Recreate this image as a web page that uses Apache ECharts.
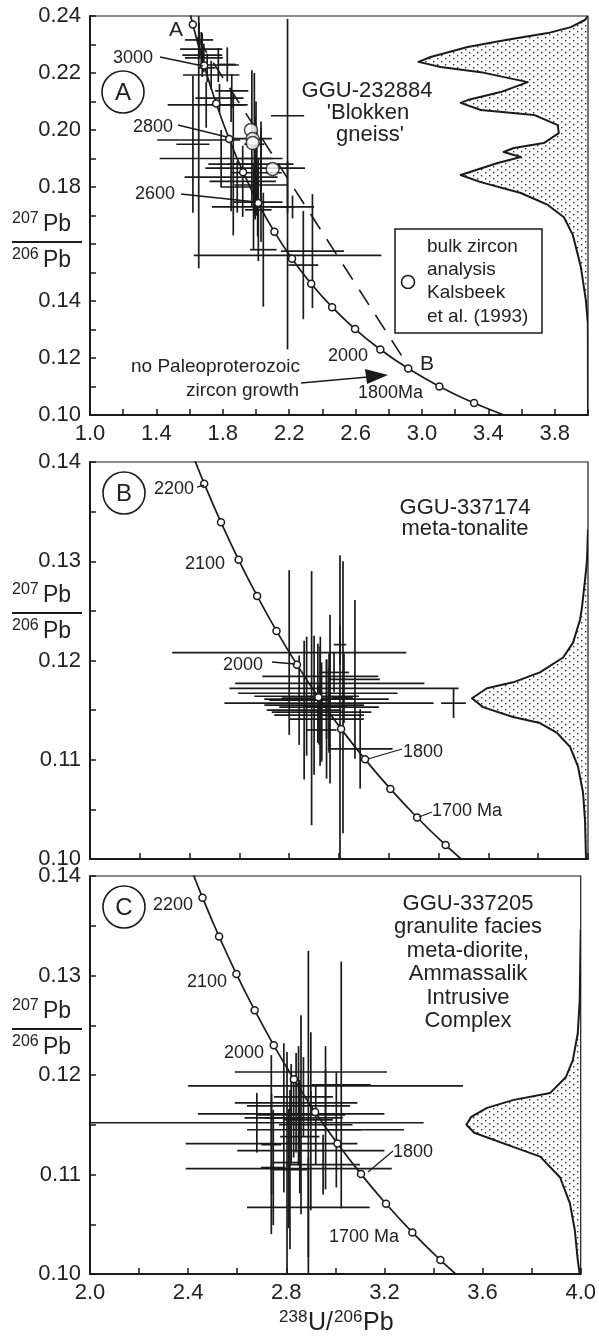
<!DOCTYPE html>
<html><head><meta charset="utf-8">
<script src="https://cdn.jsdelivr.net/npm/echarts@6/dist/echarts.min.js"></script>
<style>html,body{margin:0;padding:0;background:#fff}#c{width:599px;height:1340px}</style>
</head><body><div id="c"></div>
<script>
const FONT = '"Liberation Sans", Arial, Helvetica, sans-serif';
const INK = '#1a1a1a';

// ---------- tick labels ----------
const xLabelsA = ['1.0','1.4','1.8','2.2','2.6','3.0','3.4','3.8'];
const yLabelsA = ['0.10','0.12','0.14','0.18','0.20','0.22','0.24'];
const xLabelsC = ['2.0','2.4','2.8','3.2','3.6','4.0'];
const yLabelsBC = ['0.10','0.11','0.12','0.13','0.14'];

// ---------- concordia (age Ma, 238U/206Pb, 207Pb/206Pb) ----------
const concAgesA = [1600,1700,1800,1900,2000,2100,2200,2300,2400,2500,2600,2700,2800,2900,3000,3100,3200];
const concXA = [3.5496,3.3138,3.1046,2.9173,2.7490,2.5968,2.4586,2.3325,2.2170,2.1108,2.0129,1.9223,1.8384,1.7603,1.6875,1.6194,1.5557];
const concYA = [0.09872,0.10418,0.11004,0.11629,0.12298,0.13015,0.13782,0.14604,0.15484,0.16427,0.17437,0.18520,0.19683,0.20927,0.22266,0.23701,0.25241];
const concAgesBC = [1600,1650,1700,1750,1800,1850,1900,1950,2000,2050,2100,2150,2200,2250];
const concXBC = [3.5496,3.4282,3.3138,3.2063,3.1046,3.0084,2.9173,2.8310,2.7490,2.6711,2.5968,2.5261,2.4586,2.3941];
const concYBC = [0.09872,0.10140,0.10418,0.10706,0.11004,0.11311,0.11629,0.11958,0.12298,0.12651,0.13015,0.13392,0.13782,0.14186];

// ---------- analyses: [x, y, xErr, yErr] ----------
const crossesA = [
 [1.657,0.2316,0.085,0.006],[1.670,0.2284,0.127,0.006],[1.676,0.2263,0.120,0.0077],[1.686,0.2253,0.114,0.005],
 [1.773,0.2228,0.124,0.006],[1.730,0.2193,0.170,0.005],[1.854,0.2137,0.100,0.006],[1.780,0.2112,0.145,0.005],
 [1.700,0.2088,0.232,0.008],[1.850,0.2088,0.100,0.006],[1.827,0.2230,0.050,0.006],[1.706,0.2218,0.050,0.005],
 [1.655,0.1965,0.250,0.045],[1.620,0.1950,0.100,0.024],[1.790,0.1900,0.370,0.010],[2.030,0.1880,0.196,0.015],
 [1.995,0.1866,0.300,0.018],[1.850,0.1835,0.280,0.012],[2.030,0.1807,0.160,0.020],[2.010,0.1747,0.150,0.012],
 [1.985,0.1730,0.250,0.015],[1.975,0.1970,0.120,0.024],[1.990,0.1950,0.060,0.025],[1.863,0.1880,0.150,0.025],
 [1.887,0.1800,0.100,0.009],[2.014,0.1720,0.080,0.018],[2.044,0.1580,0.080,0.020],[2.190,0.2050,0.100,0.034],
 [2.190,0.1560,0.565,0.033],[2.285,0.1526,0.090,0.019],[2.340,0.1575,0.190,0.020],[1.920,0.1820,0.200,0.0125],
 [2.220,0.1730,0.130,0.004],[2.000,0.1900,0.100,0.020],[2.005,0.1850,0.150,0.015]
];
const bulkA = [[1.97,0.2000],[1.98,0.1968],[1.98,0.1954],[2.10,0.1863]];
const discordiaA = [[1.645,0.2325],[2.930,0.1160]];

const crossesB = [
 [2.800,0.1208,0.470,0.0083],[2.890,0.1162,0.120,0.0128],[2.964,0.1161,0.100,0.0085],[3.004,0.1153,0.030,0.0153],
 [3.016,0.1163,0.040,0.0137],[3.064,0.1181,0.100,0.0080],[2.925,0.1184,0.233,0.0040],[2.963,0.1177,0.380,0.0030],
 [3.020,0.1172,0.460,0.0035],[2.915,0.1167,0.320,0.0050],[2.870,0.1164,0.210,0.0060],[2.950,0.1161,0.250,0.0040],
 [2.960,0.1157,0.420,0.0050],[2.900,0.1155,0.200,0.0070],[2.960,0.1153,0.200,0.0040],[2.930,0.1148,0.200,0.0050],
 [2.920,0.1145,0.180,0.0030],[2.950,0.1141,0.150,0.0060],[3.085,0.1111,0.130,0.0040],[3.460,0.1157,0.050,0.0015],
 [3.004,0.1216,0.025,0.0020],[2.924,0.1154,0.060,0.0060],[2.840,0.1160,0.120,0.0045],[2.860,0.1150,0.150,0.0070],
 [2.930,0.1130,0.060,0.0030],[2.980,0.1188,0.060,0.0020]
];
const crossesC = [
 [2.960,0.1189,0.560,0.0040],[2.900,0.1203,0.310,0.0040],[2.840,0.1172,0.250,0.0050],[2.850,0.1169,0.210,0.0060],
 [2.820,0.1161,0.380,0.0050],[2.680,0.1152,0.680,0.0030],[2.960,0.1145,0.320,0.0060],[2.740,0.1131,0.350,0.0050],
 [2.900,0.1124,0.300,0.0060],[2.810,0.1106,0.420,0.0060],[2.890,0.1067,0.250,0.0050],[2.739,0.1130,0.040,0.0090],
 [2.747,0.1107,0.050,0.0058],[2.790,0.1157,0.080,0.0075],[2.803,0.1112,0.060,0.0111],[2.815,0.1105,0.070,0.0080],
 [2.855,0.1138,0.080,0.0057],[2.890,0.1155,0.100,0.0170],[3.024,0.1190,0.120,0.0124],[3.004,0.1145,0.100,0.0058],
 [2.860,0.1160,0.180,0.0100],[2.830,0.1157,0.200,0.0040],[2.920,0.1150,0.150,0.0040],[2.870,0.1178,0.120,0.0040],
 [2.950,0.1110,0.150,0.0030]
];

// ---------- relative probability curves: [x, y] ----------
const pdfA = [[4.0,0.2400],[3.981,0.2386],[3.897,0.2361],[3.758,0.2340],[3.505,0.2316],[3.275,0.2291],[3.052,0.2256],
 [2.979,0.2239],[3.112,0.2221],[3.354,0.2203],[3.637,0.2168],[3.474,0.2133],[3.275,0.2105],[3.233,0.2095],[3.354,0.2070],
 [3.674,0.2053],[3.818,0.2017],[3.824,0.1989],[3.734,0.1954],[3.553,0.1937],[3.492,0.1923],[3.595,0.1905],[3.456,0.1884],
 [3.233,0.1842],[3.354,0.1817],[3.595,0.1779],[3.758,0.1737],[3.855,0.1694],[3.909,0.1631],[3.957,0.1519],[3.987,0.1403],
 [3.999,0.1322],[4.0,0.1000]];
const pdfB = [[4.0,0.1332],[3.996,0.1301],[3.988,0.1281],[3.976,0.1254],[3.968,0.1241],[3.940,0.1218],[3.900,0.1203],
 [3.807,0.1188],[3.699,0.1178],[3.594,0.1172],[3.534,0.1162],[3.578,0.1153],[3.699,0.1143],[3.807,0.1137],[3.876,0.1127],
 [3.928,0.1113],[3.960,0.1093],[3.980,0.1067],[3.988,0.1039],[3.992,0.1000],[4.0,0.1000]];
const pdfC = [[4.0,0.1346],[3.996,0.1275],[3.988,0.1242],[3.968,0.1215],[3.940,0.1198],[3.876,0.1182],[3.727,0.1175],
 [3.618,0.1167],[3.554,0.1158],[3.534,0.1150],[3.566,0.1142],[3.699,0.1130],[3.835,0.1118],[3.916,0.1097],[3.956,0.1071],
 [3.976,0.1044],[3.988,0.1014],[3.996,0.1000],[4.0,0.1000]];

// ---------- build ----------
const pc = document.createElement('canvas'); pc.width = 8; pc.height = 6;
const pg = pc.getContext('2d'); pg.fillStyle = '#333';
pg.fillRect(1,1,1.4,1.4); pg.fillRect(5,4,1.4,1.4);
const dotFill = {image: pc, repeat: 'repeat'};

const zip = (xs, ys) => xs.map((x, i) => [x, ys[i]]);

function findLabel(list, v) { const m = list.find(l => Math.abs(parseFloat(l) - v) < 1e-7); return m || ''; }

function xAx(gi, min, max, labels) {
  return {gridIndex: gi, type: 'value', min, max, interval: 0.2,
    axisLine: {show: true, onZero: false, lineStyle: {color: INK, width: 2}},
    axisTick: {show: true, inside: true, length: 6, lineStyle: {color: INK, width: 1.5}},
    splitLine: {show: false},
    axisLabel: {show: !!labels, margin: 8, fontSize: 22, color: '#222', fontFamily: FONT,
      showMinLabel: true, showMaxLabel: true, hideOverlap: false,
      formatter: v => labels ? findLabel(labels, v) : ''}};
}
function yAx(gi, min, max, interval, labels) {
  return {gridIndex: gi, type: 'value', min, max, interval,
    axisLine: {show: true, onZero: false, lineStyle: {color: INK, width: 2}},
    axisTick: {show: true, inside: true, length: 6, lineStyle: {color: INK, width: 1.5}},
    splitLine: {show: false},
    axisLabel: {margin: 9, fontSize: 22, color: '#222', fontFamily: FONT,
      showMinLabel: true, showMaxLabel: true, hideOverlap: false,
      formatter: v => findLabel(labels, v)}};
}

function crossRender(params, api) {
  const x = api.value(0), y = api.value(1), ex = api.value(2), ey = api.value(3);
  const a = api.coord([x - ex, y]), b = api.coord([x + ex, y]);
  const c = api.coord([x, y - ey]), d = api.coord([x, y + ey]);
  const st = {stroke: INK, lineWidth: 1.7};
  return {type: 'group', children: [
    {type: 'line', shape: {x1: a[0], y1: a[1], x2: b[0], y2: b[1]}, style: st},
    {type: 'line', shape: {x1: c[0], y1: c[1], x2: d[0], y2: d[1]}, style: st}]};
}
function crossSeries(gi, data) {
  return {type: 'custom', xAxisIndex: gi, yAxisIndex: gi, data, renderItem: crossRender, clip: true, z: 2, silent: true};
}
function pdfSeries(gi, data) {
  return {type: 'custom', xAxisIndex: gi, yAxisIndex: gi, data, clip: true, z: 1, silent: true,
    renderItem: (params, api) => {
      if (params.dataIndex !== 0) return null;
      const pts = data.map(p => api.coord(p));
      return {type: 'group', children: [
        {type: 'polygon', shape: {points: pts}, style: {fill: dotFill, stroke: null}},
        {type: 'polyline', shape: {points: pts}, style: {fill: null, stroke: INK, lineWidth: 2, lineJoin: 'round'}}]};
    }};
}
function concSeries(gi, xs, ys) {
  return {type: 'line', xAxisIndex: gi, yAxisIndex: gi, data: zip(xs, ys), smooth: 0.3,
    symbol: 'circle', symbolSize: 7, showAllSymbol: true, clip: true, z: 4, silent: true,
    lineStyle: {color: INK, width: 1.7}, itemStyle: {color: '#fff', borderColor: INK, borderWidth: 1.5}};
}

const grids = [
  {left: 90, top: 16, width: 498, height: 399},
  {left: 90, top: 462, width: 498, height: 397},
  {left: 90, top: 876, width: 498, height: 398}
].map(g => Object.assign(g, {show: true, borderColor: INK, borderWidth: 1.2, backgroundColor: 'transparent'}));

// ---------- annotations ----------
const G = [];
function T(x, y, text, size, align, extra) {
  G.push(Object.assign({type: 'text', x, y, z: 10, style: {text, fontSize: size, fontFamily: FONT, fill: '#222',
    align: align || 'left', verticalAlign: 'middle'}}, extra || {}));
}
function L(x1, y1, x2, y2, w) {
  G.push({type: 'line', z: 10, shape: {x1, y1, x2, y2}, style: {stroke: INK, lineWidth: w || 1.3}});
}
function circ(cx, cy, r, letter) {
  G.push({type: 'circle', z: 10, shape: {cx, cy, r}, style: {fill: null, stroke: INK, lineWidth: 1.6}});
  T(cx, cy + 1, letter, 24, 'center');
}
function pbLabel(bar) {
  T(12, bar - 23, '207', 16); T(43, bar - 17, 'Pb', 23);
  L(12, bar, 82, bar, 2);
  T(12, bar + 13, '206', 16); T(43, bar + 19, 'Pb', 23);
}
// panel A
circ(123, 92, 21, 'A');
T(176, 30, 'A', 21, 'center');
T(113, 58, '3000', 18); L(160, 57, 203, 66);
T(133, 127, '2800', 18); L(178, 125, 227, 137);
T(135, 194, '2600', 18); L(181, 194, 256, 202);
T(328, 356, '2000', 18);
T(358, 393, '1800Ma', 18);
T(420, 364, 'B', 21);
T(367, 91, 'GGU-232884', 22, 'center');
T(368, 113, "'Blokken", 22, 'center');
T(370, 135, "gneiss'", 22, 'center');
G.push({type: 'rect', z: 10, shape: {x: 395, y: 229, width: 147, height: 104}, style: {fill: '#fff', stroke: INK, lineWidth: 1.5}});
G.push({type: 'circle', z: 11, shape: {cx: 408, cy: 282, r: 6.5}, style: {fill: '#fff', stroke: INK, lineWidth: 1.5}});
T(427, 247, 'bulk zircon', 19, 'left', {z: 11});
T(427, 270, 'analysis', 19, 'left', {z: 11});
T(427, 293, 'Kalsbeek', 19, 'left', {z: 11});
T(427, 317, 'et al. (1993)', 19, 'left', {z: 11});
T(300, 367, 'no Paleoproterozoic', 19, 'right');
T(299, 391, 'zircon growth', 19, 'right');
L(301, 383, 368, 377, 1.5);
G.push({type: 'polygon', z: 10, shape: {points: [[365, 369], [388, 375], [367, 384]]}, style: {fill: INK}});
pbLabel(242);
// panel B
circ(124, 493, 21, 'B');
T(154, 489, '2200', 18); L(197, 487, 204, 485);
T(185, 564, '2100', 18);
T(223, 665, '2000', 18); L(272, 662, 295, 664);
T(403, 752, '1800', 18); L(402, 749, 368, 759);
T(432, 811, '1700 Ma', 18); L(432, 812, 419, 817);
T(465, 508, 'GGU-337174', 22, 'center');
T(465, 529, 'meta-tonalite', 22, 'center');
pbLabel(613);
// panel C
circ(124, 907, 21, 'C');
T(153, 905, '2200', 18);
T(187, 982, '2100', 18);
T(224, 1053, '2000', 18);
T(393, 1152, '1800', 18); L(393, 1151, 368, 1172);
T(329, 1237, '1700 Ma', 18);
['GGU-337205', 'granulite facies', 'meta-diorite,', 'Ammassalik', 'Intrusive', 'Complex'].forEach((s, i) =>
  T(468, 904 + i * 23.4, s, 22, 'center'));
pbLabel(1029);
// x-axis title
T(279, 1317, '238', 17); T(308, 1323, 'U/', 25); T(334, 1317, '206', 17); T(363, 1323, 'Pb', 25);

const chart = echarts.init(document.getElementById('c'));
chart.setOption({
  animation: false,
  backgroundColor: '#fff',
  grid: grids,
  xAxis: [xAx(0, 1.0, 4.0, xLabelsA), xAx(1, 2.0, 4.0, null), xAx(2, 2.0, 4.0, xLabelsC)],
  yAxis: [yAx(0, 0.10, 0.24, 0.01, yLabelsA), yAx(1, 0.10, 0.14, 0.005, yLabelsBC), yAx(2, 0.10, 0.14, 0.005, yLabelsBC)],
  series: [
    pdfSeries(0, pdfA), pdfSeries(1, pdfB), pdfSeries(2, pdfC),
    crossSeries(0, crossesA), crossSeries(1, crossesB), crossSeries(2, crossesC),
    {type: 'line', xAxisIndex: 0, yAxisIndex: 0, data: discordiaA, symbol: 'none', z: 3, silent: true,
      lineStyle: {color: INK, width: 1.6, type: [18, 12]}},
    concSeries(0, concXA, concYA), concSeries(1, concXBC, concYBC), concSeries(2, concXBC, concYBC),
    {type: 'scatter', xAxisIndex: 0, yAxisIndex: 0, data: bulkA, symbol: 'circle', symbolSize: 13, z: 5, silent: true,
      itemStyle: {color: '#fff', borderColor: INK, borderWidth: 1.5}}
  ],
  graphic: G
});
</script></body></html>
